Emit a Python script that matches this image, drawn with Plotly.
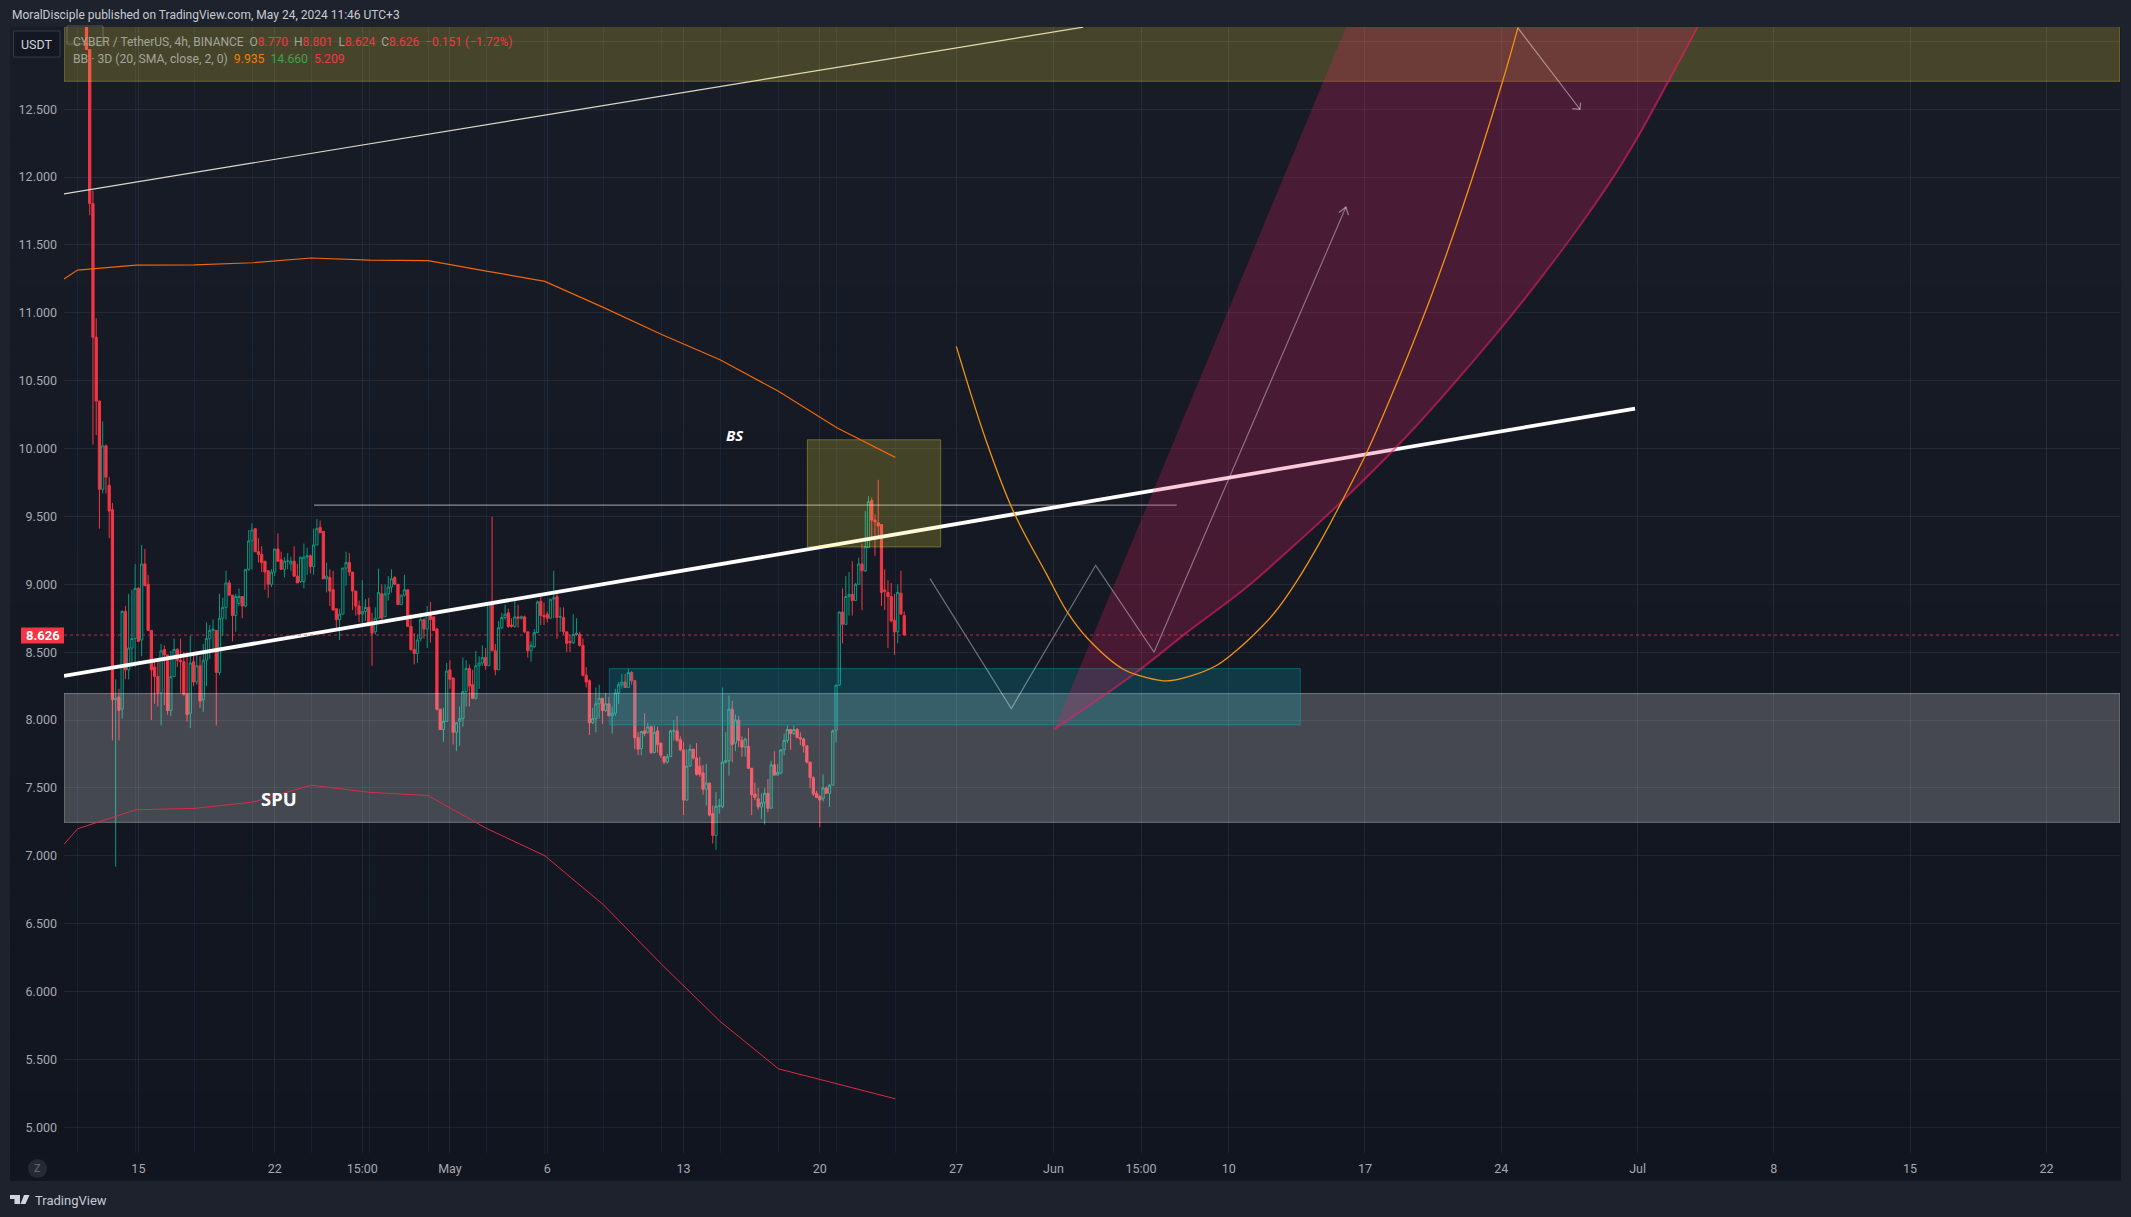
import pandas as pd
import plotly.graph_objects as go

# ---------- candle data (4h bars) ----------
FIRST_BAR = "2024-04-12 08:00"
OPENS = [
14.50,12.94,11.805,10.82,10.35,9.70,10.02,9.73,9.55,8.15,
8.17,8.08,8.80,8.37,8.53,8.60,8.97,8.59,9.15,9.00,
8.66,8.39,8.32,8.20,8.52,8.48,8.07,8.32,8.52,8.44,
8.43,8.19,8.05,8.43,8.28,8.40,8.15,8.44,8.60,8.66,
8.66,8.35,8.75,8.83,9.01,8.92,8.77,8.86,8.91,8.84,
9.11,9.32,9.41,9.24,9.22,9.17,9.10,9.00,9.09,9.26,
9.18,9.11,9.17,9.15,9.17,9.06,9.02,9.02,9.20,9.21,
9.13,9.29,9.42,9.39,9.04,9.05,8.96,8.82,8.74,8.78,
9.12,9.16,9.09,8.95,8.84,8.78,8.80,8.83,8.73,8.65,
8.75,8.93,8.76,8.93,8.98,9.05,9.00,8.85,8.92,8.96,
8.69,8.52,8.49,8.60,8.74,8.67,8.78,8.76,8.67,8.08,
7.93,7.99,8.37,8.31,7.91,7.99,8.01,8.21,8.38,8.26,
8.16,8.40,8.42,8.46,8.40,8.865,8.51,8.37,8.68,8.755,
8.79,8.70,8.69,8.76,8.75,8.76,8.65,8.51,8.54,8.645,
8.875,8.77,8.78,8.75,8.89,8.91,8.76,8.755,8.65,8.58,
8.57,8.63,8.63,8.55,8.33,8.29,7.98,8.01,8.12,8.16,
8.07,8.12,8.03,8.05,8.20,8.26,8.28,8.24,8.35,8.29,
7.87,7.79,7.92,7.91,7.95,7.76,7.92,7.83,7.73,7.69,
7.73,7.92,7.92,7.855,7.78,7.41,7.66,7.785,7.72,7.66,
7.61,7.49,7.535,7.31,7.15,7.365,7.36,7.69,7.70,8.08,
7.83,8.00,7.85,7.80,7.805,7.645,7.455,7.42,7.36,7.39,
7.46,7.35,7.67,7.595,7.61,7.78,7.85,7.93,7.90,7.93,
7.87,7.86,7.81,7.69,7.575,7.46,7.44,7.42,7.50,7.46,
7.52,7.925,8.257,8.796,8.705,8.91,8.926,8.88,9.00,9.15,
9.10,9.27,9.618,9.473,9.454,9.44,8.958,8.94,8.91,8.735,
8.65,8.934,8.770]
HIGHS = [
15.00,12.94,11.90,10.96,10.35,10.20,10.03,9.79,9.60,8.30,
8.23,8.81,8.84,8.93,8.96,9.15,8.98,9.29,9.26,9.07,
8.66,8.45,8.45,8.56,8.55,8.48,8.51,8.60,8.53,8.60,
8.50,8.50,8.62,8.50,8.50,8.47,8.56,8.72,8.70,8.74,
8.66,8.93,8.90,9.10,9.03,8.92,8.93,8.97,8.91,9.11,
9.40,9.45,9.41,9.34,9.28,9.17,9.10,9.11,9.26,9.375,
9.24,9.20,9.23,9.20,9.28,9.15,9.20,9.30,9.27,9.22,
9.41,9.48,9.47,9.39,9.16,9.11,9.10,8.82,8.82,9.12,
9.24,9.23,9.09,8.95,8.88,9.03,8.89,8.90,8.79,8.83,
9.115,9.00,9.00,9.06,9.11,9.06,9.00,8.92,9.07,8.96,
8.78,8.64,8.63,8.79,8.75,8.84,8.87,8.76,8.68,8.08,
8.09,8.42,8.44,8.31,7.98,8.10,8.46,8.44,8.41,8.37,
8.51,8.47,8.55,8.53,8.865,9.50,8.56,8.73,8.79,8.85,
8.82,8.75,8.89,8.85,8.77,8.77,8.65,8.58,8.67,8.88,
8.93,8.865,8.80,8.89,9.10,8.93,8.83,8.83,8.65,8.63,
8.78,8.75,8.65,8.60,8.39,8.30,8.09,8.24,8.26,8.16,
8.20,8.17,8.10,8.23,8.28,8.34,8.34,8.38,8.36,8.29,
7.91,7.92,8.05,7.98,7.96,7.96,7.95,7.83,7.73,7.75,
7.93,8.00,8.03,7.88,7.84,7.785,7.82,7.785,7.83,7.73,
7.67,7.675,7.54,7.37,7.47,7.42,8.24,7.91,8.18,8.14,
8.04,8.03,7.88,7.87,7.94,7.645,7.54,7.50,7.46,7.50,
7.565,7.70,7.77,7.675,7.785,7.90,7.96,7.93,7.96,7.94,
7.91,7.87,7.81,7.69,7.585,7.48,7.44,7.60,7.51,7.53,
7.93,8.26,8.80,8.97,9.06,9.09,9.17,9.01,9.196,9.30,
9.54,9.65,9.64,9.515,9.77,9.44,9.11,9.03,9.01,8.93,
9.00,9.10,8.801]
LOWS = [
12.94,11.72,10.03,10.10,9.41,9.67,9.67,9.34,7.85,6.92,
7.85,8.01,8.30,8.30,8.39,8.39,8.58,8.47,8.99,8.66,
8.00,8.12,8.10,7.96,8.11,8.04,8.03,8.32,8.39,8.20,
8.18,7.99,7.94,8.25,8.26,8.09,8.06,8.25,8.45,8.50,
7.96,8.33,8.62,8.74,8.92,8.58,8.65,8.84,8.75,8.83,
9.10,9.11,9.24,9.16,9.09,8.96,8.90,8.98,9.06,9.17,
9.11,9.05,9.11,9.10,9.06,9.01,9.01,8.97,9.07,9.08,
9.07,9.29,9.38,9.04,8.94,8.84,8.81,8.68,8.59,8.78,
8.99,9.06,8.81,8.77,8.72,8.69,8.73,8.69,8.40,8.63,
8.75,8.74,8.76,8.88,8.94,9.00,8.85,8.85,8.91,8.69,
8.51,8.41,8.42,8.58,8.60,8.53,8.57,8.66,8.07,7.93,
7.84,7.99,8.23,7.82,7.77,7.81,7.95,8.10,8.10,8.16,
8.15,8.23,8.40,8.37,8.40,8.51,8.33,8.37,8.67,8.74,
8.68,8.68,8.68,8.68,8.74,8.64,8.46,8.43,8.53,8.64,
8.70,8.70,8.72,8.75,8.75,8.60,8.65,8.63,8.50,8.50,
8.56,8.62,8.54,8.32,8.24,7.89,7.97,7.91,8.01,7.97,
8.06,8.03,7.90,8.03,8.12,8.23,8.24,8.24,8.26,7.785,
7.74,7.74,7.88,7.90,7.75,7.76,7.76,7.72,7.675,7.68,
7.73,7.85,7.84,7.77,7.30,7.41,7.66,7.71,7.59,7.58,
7.45,7.37,7.29,7.09,7.045,7.31,7.35,7.68,7.59,7.69,
7.77,7.80,7.73,7.73,7.64,7.30,7.41,7.34,7.27,7.23,
7.32,7.35,7.59,7.59,7.60,7.74,7.83,7.78,7.89,7.87,
7.815,7.76,7.68,7.50,7.44,7.43,7.21,7.40,7.46,7.36,
7.52,7.835,8.25,8.565,8.70,8.77,8.77,8.88,9.00,8.81,
9.09,9.27,9.33,9.21,9.355,8.84,8.81,8.53,8.72,8.48,
8.565,8.78,8.624]
CLOSES = [
12.94,11.805,10.82,10.35,9.70,10.02,9.79,9.54,8.15,8.16,
8.07,8.80,8.37,8.53,8.60,8.97,8.58,9.15,8.99,8.66,
8.37,8.32,8.20,8.51,8.48,8.07,8.32,8.52,8.44,8.43,
8.19,8.04,8.42,8.28,8.40,8.14,8.44,8.60,8.66,8.67,
8.35,8.75,8.83,9.01,8.92,8.77,8.91,8.91,8.84,9.11,
9.32,9.40,9.24,9.22,9.16,9.09,9.00,9.09,9.26,9.17,
9.11,9.17,9.17,9.17,9.06,9.01,9.20,9.20,9.21,9.13,
9.29,9.41,9.38,9.04,9.06,8.95,8.81,8.74,8.78,9.12,
9.16,9.09,8.95,8.84,8.78,8.80,8.83,8.70,8.64,8.75,
8.94,8.75,8.93,8.98,9.04,9.00,8.85,8.92,8.96,8.69,
8.52,8.49,8.59,8.74,8.67,8.78,8.74,8.66,8.08,7.93,
7.99,8.36,8.30,7.91,7.98,8.01,8.21,8.38,8.25,8.16,
8.40,8.42,8.46,8.40,8.865,8.51,8.37,8.68,8.755,8.78,
8.69,8.69,8.76,8.75,8.76,8.65,8.51,8.55,8.645,8.87,
8.77,8.76,8.75,8.89,8.90,8.755,8.76,8.65,8.565,8.57,
8.63,8.64,8.55,8.33,8.28,7.98,8.01,8.12,8.16,8.07,
8.12,8.03,8.05,8.20,8.26,8.28,8.24,8.35,8.29,7.87,
7.785,7.915,7.90,7.95,7.76,7.91,7.82,7.74,7.69,7.73,
7.92,7.92,7.85,7.78,7.41,7.66,7.785,7.72,7.60,7.60,
7.49,7.535,7.30,7.15,7.365,7.37,7.69,7.70,8.08,7.82,
8.00,7.85,7.80,7.86,7.645,7.45,7.43,7.36,7.39,7.46,
7.35,7.67,7.595,7.615,7.78,7.85,7.93,7.90,7.93,7.87,
7.86,7.81,7.69,7.575,7.455,7.43,7.41,7.50,7.46,7.52,
7.92,8.257,8.796,8.705,8.91,8.926,8.88,9.00,9.15,9.10,
9.277,9.61,9.473,9.46,9.43,8.94,8.946,8.91,8.73,8.65,
8.94,8.78,8.626]
assert len(OPENS) == len(HIGHS) == len(LOWS) == len(CLOSES) == 253
BAR_DATES = pd.date_range(FIRST_BAR, periods=len(OPENS), freq="4h")

# ---------- Bollinger lines (3D bars) ----------
BB_DATES = ["2024-04-11 04:18", "2024-04-11 21:00", "2024-04-14 21:00", "2024-04-17 21:00",
            "2024-04-20 21:00", "2024-04-23 21:00", "2024-04-26 21:00", "2024-04-29 21:00",
            "2024-05-02 21:00", "2024-05-05 21:00", "2024-05-08 21:00", "2024-05-11 21:00",
            "2024-05-14 21:00", "2024-05-17 21:00", "2024-05-20 21:00", "2024-05-23 21:00"]
BB_BASIS = [11.249, 11.315, 11.352, 11.354, 11.369, 11.404, 11.389, 11.384, 11.308, 11.232,
            11.04, 10.84, 10.655, 10.422, 10.153, 9.935]
BB_LOWER = [7.084, 7.199, 7.339, 7.349, 7.395, 7.52, 7.467, 7.444, 7.202, 7.0,
            6.64, 6.2, 5.78, 5.43, 5.32, 5.209]

# ---------- drawings ----------
X_LEFT, X_RIGHT = "2024-04-11 04:18", "2024-07-25 18:43"
Y_LOW, Y_HIGH = 4.810, 13.106
LAST_PRICE = 8.626
THIN_X, THIN_Y = [X_LEFT, "2024-06-02 12:36"], [11.877, 13.105]
THICK_X, THICK_Y = [X_LEFT, "2024-06-30 20:53"], [8.325, 10.295]
HLINE_X, HLINE_Y = ["2024-04-24 00:30", "2024-06-07 08:00"], [9.583, 9.583]
SPU_BOX = [X_LEFT, X_RIGHT, 7.246, 8.195]
TEAL_BOX = ["2024-05-09 04:30", "2024-06-13 16:20", 7.964, 8.379]
BS_BOX = ["2024-05-19 08:40", "2024-05-26 05:00", 9.275, 10.065]
TOP_BOX = [X_LEFT, X_RIGHT, 12.706, 13.6]
ZIG_X = ["2024-05-25 15:50", "2024-05-29 20:00", "2024-06-03 04:00", "2024-06-06 04:00", "2024-06-16 00:30"]
ZIG_Y = [9.042, 8.085, 9.14, 8.50, 11.779]
HEAD1_X = ["2024-06-15 16:00", "2024-06-16 00:30", "2024-06-16 03:40"]
HEAD1_Y = [11.739, 11.779, 11.72]
ARROW2_X = ["2024-06-24 20:24", "2024-06-28 01:00"]
ARROW2_Y = [13.10, 12.50]
HEAD2_X = ["2024-06-28 01:40", "2024-06-28 01:00", "2024-06-27 15:40"]
HEAD2_Y = [12.549, 12.50, 12.504]
CURVE_X = ["2024-06-01 01:00", "2024-06-05 03:00", "2024-06-07 20:40", "2024-06-10 19:00",
           "2024-06-13 17:00", "2024-06-15 19:40", "2024-06-18 11:50", "2024-06-20 20:24",
           "2024-06-25 04:00", "2024-06-29 10:20", "2024-07-01 00:30", "2024-07-02 14:00",
           "2024-07-04 01:40", "2024-07-05 11:45"]
CURVE_Y = [7.933, 8.337, 8.646, 8.963, 9.331, 9.613, 9.993, 10.361, 11.097, 11.93, 12.298,
           12.706, 13.103, 13.525]
WEDGE_TOP_LEFT = ("2024-06-17 05:45", 13.525)
ORANGE_X = ["2024-05-27 00:15", "2024-05-28 12:30", "2024-05-29 22:30", "2024-05-31 15:40",
            "2024-06-01 16:20", "2024-06-02 19:00", "2024-06-04 14:10", "2024-06-05 19:00",
            "2024-06-06 20:00", "2024-06-08 01:30", "2024-06-09 07:40", "2024-06-10 06:30",
            "2024-06-11 07:30", "2024-06-12 08:40", "2024-06-13 12:00", "2024-06-14 18:30",
            "2024-06-15 19:40", "2024-06-17 02:00", "2024-06-18 06:40", "2024-06-20 08:00",
            "2024-06-21 23:20", "2024-06-24 01:40", "2024-06-24 20:40"]
ORANGE_Y = [10.753, 10.067, 9.539, 9.073, 8.803, 8.595, 8.374, 8.313, 8.288, 8.325, 8.398, 8.497,
            8.632, 8.792, 9.024, 9.331, 9.613, 9.969, 10.361, 11.097, 11.759, 12.706, 13.103]

# ---------- axes ----------
Y_TICKS = [5, 5.5, 6, 6.5, 7, 7.5, 8, 8.5, 9, 9.5, 10, 10.5, 11, 11.5, 12, 12.5, 13]
Y_LABELS = ["5.000", "5.500", "6.000", "6.500", "7.000", "7.500", "8.000", "8.500", "9.000",
            "9.500", "10.000", "10.500", "11.000", "11.500", "12.000", "12.500", ""]
X_TICKS = ["2024-04-15", "2024-04-22", "2024-04-26 12:00", "2024-05-01", "2024-05-06", "2024-05-13",
           "2024-05-20", "2024-05-27", "2024-06-01", "2024-06-05 12:00", "2024-06-10", "2024-06-17",
           "2024-06-24", "2024-07-01", "2024-07-08", "2024-07-15", "2024-07-22"]
X_LABELS = ["15", "22", "15:00", "May", "6", "13", "20", "27", "Jun", "15:00", "10", "17", "24",
            "Jul", "8", "15", "22"]
BAR_3D_LINES = BB_DATES[1:]

# ---------- page geometry ----------
W, H = 2131, 1217
L, R, T, B = 64, 2120, 27, 1153
FONT = "Liberation Sans Narrow, Roboto, sans-serif"
RED, TEAL = "#f23645", "#089981"
LABEL = "#a6a9b2"


def px(x):
    return (x - L) / (R - L)


def py(y):
    return 1 - (y - T) / (B - T)


def box(b, fill, line, name):
    x0, x1, y0, y1 = b
    return go.Scatter(x=[x0, x1, x1, x0, x0], y=[y0, y0, y1, y1, y0], mode="lines", fill="toself",
                      fillcolor=fill, line=dict(color=line, width=1), name=name, hoverinfo="skip")


def line(x, y, color, width, name, **kw):
    return go.Scatter(x=x, y=y, mode="lines", line=dict(color=color, width=width, **kw),
                      name=name, hoverinfo="skip")


fig = go.Figure()
fig.add_trace(line(THICK_X, THICK_Y, "#ffffff", 3.8, "trend"))
fig.add_trace(line(THIN_X, THIN_Y, "rgba(255,248,232,0.85)", 1.2, "upper trend"))
fig.add_trace(line(HLINE_X, HLINE_Y, "rgba(255,255,255,0.5)", 1.3, "level"))
fig.add_trace(box(TOP_BOX, "rgba(255,235,59,0.2)", "rgba(255,235,59,0.3)", "top zone"))
fig.add_trace(box(SPU_BOX, "rgba(255,255,255,0.21)", "rgba(255,255,255,0.34)", "SPU"))
fig.add_trace(box(TEAL_BOX, "rgba(0,188,212,0.2)", "rgba(0,188,212,0.35)", "zone"))
fig.add_trace(box(BS_BOX, "rgba(255,235,59,0.2)", "rgba(255,235,59,0.32)", "BS"))
fig.add_trace(go.Scatter(
    x=CURVE_X + [WEDGE_TOP_LEFT[0], CURVE_X[0]], y=CURVE_Y + [WEDGE_TOP_LEFT[1], CURVE_Y[0]],
    mode="none", fill="toself", fillcolor="rgba(233,30,99,0.24)", name="wedge", hoverinfo="skip"))
fig.add_trace(line(CURVE_X, CURVE_Y, "rgba(233,30,99,0.62)", 2, "wedge edge", shape="spline"))
fig.add_trace(line(ZIG_X, ZIG_Y, "rgba(255,255,255,0.38)", 1.2, "path"))
fig.add_trace(line(HEAD1_X, HEAD1_Y, "rgba(255,255,255,0.45)", 1.2, "head"))
fig.add_trace(line(ARROW2_X, ARROW2_Y, "rgba(255,255,255,0.45)", 1.2, "arrow"))
fig.add_trace(line(HEAD2_X, HEAD2_Y, "rgba(255,255,255,0.45)", 1.2, "head"))
fig.add_trace(line(ORANGE_X, ORANGE_Y, "#ef9412", 1.3, "curve", shape="spline"))
fig.add_trace(line(BB_DATES, BB_BASIS, "#f0660a", 1.2, "BB basis"))
fig.add_trace(line(BB_DATES, BB_LOWER, "#d92b48", 1.0, "BB lower"))
fig.add_trace(line([X_LEFT, X_RIGHT], [LAST_PRICE, LAST_PRICE], "rgba(242,54,69,0.75)", 1, "last", dash="dot"))
fig.add_trace(go.Candlestick(
    x=BAR_DATES, open=OPENS, high=HIGHS, low=LOWS, close=CLOSES,
    increasing=dict(line=dict(color=TEAL, width=1), fillcolor="rgba(0,0,0,0)"),
    decreasing=dict(line=dict(color=RED, width=1), fillcolor=RED),
    whiskerwidth=0, name="CYBER", hoverinfo="skip"))

shapes = []
# panel with its soft vertical gradient
BANDS = 40
for i in range(BANDS):
    f = i / (BANDS - 1)
    col = f"rgb({round(24 - 7 * f)},{round(28 - 7 * f)},{round(39 - 8 * f)})"
    y0 = 27 + (1181 - 27) * i / BANDS
    y1 = 27 + (1181 - 27) * (i + 1) / BANDS + 1
    shapes.append(dict(type="rect", xref="paper", yref="paper", x0=px(10), x1=px(2121), y0=py(y0), y1=py(min(y1, 1181)),
                       fillcolor=col, line=dict(width=0), layer="below"))
# USDT button, small top-left box, price tag, Z button, logo
shapes.append(dict(type="rect", xref="paper", yref="paper", x0=px(13.6), x1=px(60), y0=py(31), y1=py(57),
                   fillcolor="#131722", line=dict(color="#363a45", width=1), layer="above"))
shapes.append(dict(type="rect", xref="paper", yref="paper", x0=px(67), x1=px(103), y0=py(26), y1=py(44),
                   line=dict(color="rgba(255,255,255,0.22)", width=1), layer="above"))
shapes.append(dict(type="rect", xref="paper", yref="paper", x0=px(21), x1=px(64), y0=py(627.5), y1=py(643.5),
                   fillcolor=RED, line=dict(width=0), layer="above"))
shapes.append(dict(type="circle", xref="paper", yref="paper", x0=px(28), x1=px(47), y0=py(1159), y1=py(1178),
                   fillcolor="#252933", line=dict(width=0), layer="above"))
for pts in ([(10, 1195), (20, 1195), (20, 1204), (14.5, 1204), (14.5, 1199), (10, 1199)],
            [(24, 1195), (29.5, 1195), (25.5, 1204), (20.5, 1204)]):
    path = "M " + " L ".join(f"{px(a):.5f} {py(b):.5f}" for a, b in pts) + " Z"
    shapes.append(dict(type="path", xref="paper", yref="paper", path=path, fillcolor="#d1d4dc",
                       line=dict(width=0), layer="above"))


def note(x, y, text, size=13, color=LABEL, anchor="left", family=FONT):
    return dict(xref="paper", yref="paper", x=px(x), y=py(y), text=text, showarrow=False, xanchor=anchor,
                yanchor="middle", align="left", font=dict(family=family, size=size, color=color))


def c(text, color):
    return f'<span style="color:{color}">{text}</span>'


LEGEND_1 = ("CYBER / TetherUS, 4h, BINANCE  O" + c("8.770", RED) + "  H" + c("8.801", RED) + "  L" + c("8.624", RED)
            + "  C" + c("8.626", RED) + "  " + c("\u22120.151 (\u22121.72%)", RED))
LEGEND_2 = ("BB \u00b7 3D (20, SMA, close, 2, 0)  " + c("9.935", "#f57c00") + "  " + c("14.660", "#43a047") + "  "
            + c("5.209", RED))
annotations = [
    note(9.6, 15, "MoralDisciple published on TradingView.com, May 24, 2024 11:46 UTC+3", 12, "#c8cbd3"),
    note(70.5, 41.7, LEGEND_1, 12, "#a3a49a"),
    note(70.5, 59, LEGEND_2, 12.2, "#a3a49a"),
    note(36.8, 44, "USDT", 12.5, "#d1d4dc", "center"),
    note(42.5, 635.5, "<b>8.626</b>", 13, "#ffffff", "center"),
    note(37.5, 1168.5, "Z", 11, "#6a6d78", "center"),
    note(33, 1200, "TradingView", 13, "#c8cbd3"),
    dict(x="2024-05-15 15:20", y=10.103, text="<b><i>BS</i></b>", showarrow=False,
         font=dict(family="Noto Sans", size=15, color="#ffffff")),
    dict(x="2024-04-22 05:15", y=7.42, text="<b>SPU</b>", showarrow=False,
         font=dict(family="Noto Sans", size=18.5, color="#ffffff")),
]

fig.update_layout(
    width=W, height=H,
    margin=dict(l=L, r=W - R, t=T, b=H - B, pad=0),
    paper_bgcolor="#1e222d", plot_bgcolor="rgba(0,0,0,0)",
    showlegend=False, boxgap=0.02, shapes=shapes, annotations=annotations,
    font=dict(family=FONT, size=12.5, color=LABEL),
    xaxis=dict(type="date", range=[X_LEFT, X_RIGHT], rangeslider=dict(visible=False),
               tickmode="array", tickvals=X_TICKS, ticktext=X_LABELS, ticks="", ticklabelstandoff=6,
               showgrid=True, gridcolor="rgba(240,243,250,0.075)", gridwidth=1, zeroline=False, showline=False,
               minor=dict(tickmode="array", tickvals=BAR_3D_LINES, showgrid=True,
                          gridcolor="rgba(41,98,155,0.16)", gridwidth=1, ticks="")),
    yaxis=dict(range=[Y_LOW, Y_HIGH], tickmode="array", tickvals=Y_TICKS, ticktext=Y_LABELS, ticks="",
               ticklabelstandoff=6, showgrid=True, gridcolor="rgba(240,243,250,0.07)", gridwidth=1,
               zeroline=False, showline=False),
)

fig.write_html("out.html", config={"displayModeBar": False},
               post_script="document.body.style.margin='0';document.body.style.background='#1e222d';")
